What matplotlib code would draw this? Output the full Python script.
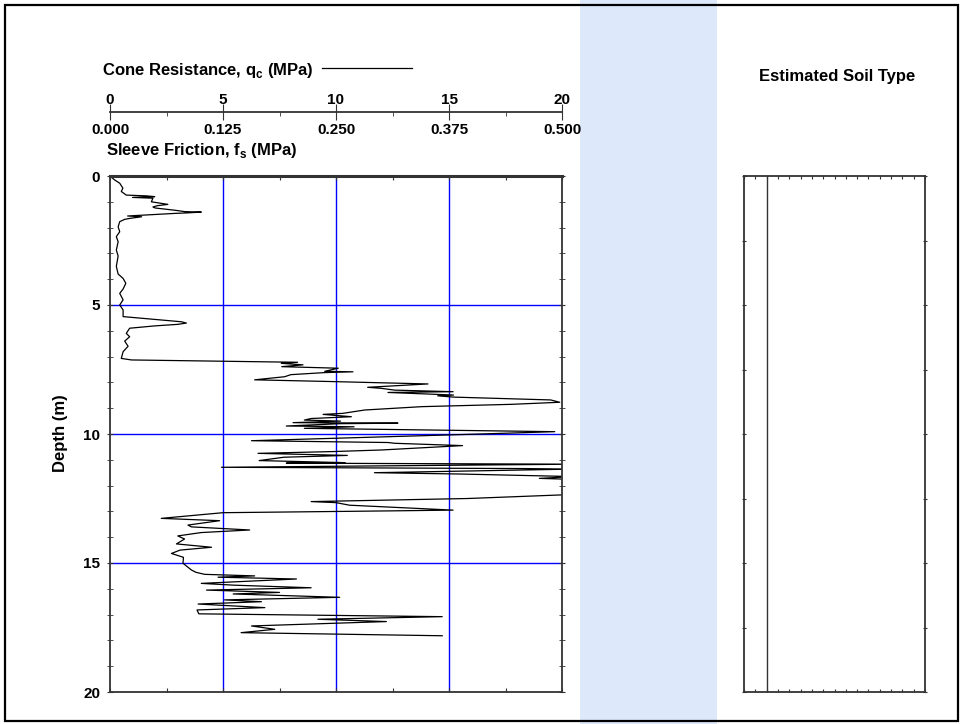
#CPT log - cone resistance vs depth
import numpy as np
import matplotlib
matplotlib.use("Agg")
import matplotlib.pyplot as plt
from matplotlib.patches import Rectangle
from matplotlib.lines import Line2D

plt.rcParams['font.family'] = ['Liberation Sans', 'DejaVu Sans']
plt.rcParams['font.weight'] = 'bold'
plt.rcParams['mathtext.fontset'] = 'custom'
plt.rcParams['mathtext.rm'] = 'Liberation Sans:bold'

#Data (depth in m, qc in MPa)
depth = [0.00, 0.15, 0.28, 0.47, 0.60, 0.74, 0.77, 0.80, 0.83, 0.86, 1.00, 1.10, 1.15, 1.20, 1.24,
         1.33, 1.38, 1.40, 1.43, 1.45, 1.52, 1.55, 1.58, 1.64, 1.68, 1.77, 1.97, 2.16, 2.35, 2.55,
         2.87, 3.10, 3.50, 3.80, 3.97, 4.16, 4.38, 4.55, 4.80, 5.00, 5.19, 5.45, 5.56, 5.65, 5.70,
         5.75, 5.81, 5.90, 6.10, 6.23, 6.40, 6.60, 6.81, 7.07, 7.13, 7.22, 7.26, 7.32, 7.39, 7.45,
         7.57, 7.59, 7.62, 7.70, 7.78, 7.90, 7.97, 8.06, 8.19, 8.23, 8.30, 8.36, 8.39, 8.49, 8.52,
         8.57, 8.68, 8.77, 8.85, 8.94, 9.07, 9.20, 9.24, 9.33, 9.40, 9.46, 9.50, 9.56, 9.58, 9.60,
         9.69, 9.72, 9.78, 9.91, 10.00, 10.26, 10.33, 10.36, 10.45, 10.62, 10.68, 10.75, 10.83, 10.90, 11.03,
         11.11, 11.13, 11.17, 11.29, 11.34, 11.36, 11.50, 11.55, 11.65, 11.72, 11.76, 11.90, 12.20, 12.36, 12.50,
         12.62, 12.66, 12.76, 12.95, 12.98, 13.05, 13.27, 13.36, 13.53, 13.60, 13.72, 13.82, 13.95, 14.07, 14.26,
         14.39, 14.50, 14.63, 14.78, 15.01, 15.27, 15.36, 15.44, 15.50, 15.55, 15.62, 15.79, 15.86, 15.96, 16.05,
         16.14, 16.20, 16.33, 16.43, 16.50, 16.59, 16.73, 16.82, 16.97, 17.08, 17.18, 17.27, 17.44, 17.57, 17.70,
         17.82]
qc = [0.00, 0.20, 0.43, 0.57, 0.50, 0.72, 1.60, 1.98, 1.00, 1.90, 1.83, 2.56, 2.10, 1.90, 2.00,
      2.90, 3.30, 4.04, 3.40, 2.86, 1.40, 0.78, 1.40, 0.90, 0.65, 0.43, 0.36, 0.43, 0.28, 0.36,
      0.28, 0.36, 0.28, 0.36, 0.58, 0.70, 0.58, 0.43, 0.58, 0.43, 0.58, 0.58, 1.98, 3.16, 3.38,
      3.00, 1.98, 0.87, 0.72, 0.87, 0.65, 0.80, 0.58, 0.50, 0.95, 8.30, 7.58, 8.54, 7.60, 10.10,
      9.50, 10.75, 9.50, 8.00, 7.73, 6.40, 9.94, 14.07, 11.40, 12.00, 12.60, 15.18, 12.30, 15.20, 14.50,
      15.20, 19.50, 19.90, 17.76, 13.80, 11.27, 10.30, 9.43, 10.68, 8.90, 8.60, 10.20, 8.10, 12.74, 10.20,
      7.80, 10.80, 8.60, 19.68, 16.40, 6.26, 12.30, 12.60, 15.60, 12.00, 9.90, 6.55, 10.50, 7.70, 6.60,
      10.40, 7.80, 20.50, 4.93, 18.30, 20.50, 11.70, 15.40, 20.50, 19.00, 20.50, 22.00, 21.50, 20.00, 15.84,
      8.90, 10.00, 10.60, 15.18, 12.40, 5.00, 2.27, 4.85, 3.45, 3.60, 6.18, 4.04, 3.00, 3.30, 2.94,
      4.49, 3.10, 2.72, 3.25, 3.23, 3.60, 3.80, 4.19, 6.40, 4.78, 8.25, 4.04, 5.50, 8.90, 4.27,
      7.50, 5.45, 10.16, 5.07, 6.70, 3.90, 6.85, 3.85, 3.93, 14.70, 9.20, 12.23, 6.26, 7.29, 5.80,
      14.70]

qc_ticks = [0, 5, 10, 15, 20]
fs_ticks = [0.000, 0.125, 0.250, 0.375, 0.500]
depth_ticks = [0, 5, 10, 15, 20]

W, H = 961, 724
fig = plt.figure(figsize=(W / 100, H / 100), dpi=100)

def box(x0, y0, x1, y1):
    # pixel box -> figure fraction [left, bottom, width, height]
    return [x0 / W, 1 - y1 / H, (x1 - x0) / W, (y1 - y0) / H]

spine_c = '#333333'
lab_fs = 12
tick_fs = 11

#Main qc plot
ax = fig.add_axes(box(110, 176, 562, 692))
ax.plot(qc, depth, color='black', lw=0.9)
ax.set_xlim(0, 20)
ax.set_ylim(20, 0)
for v in [5, 10, 15]:
    ax.axvline(v, color='#0000ff', lw=1.0, zorder=1)
    ax.axhline(v, color='#0000ff', lw=1.0, zorder=1)
ax.set_xticks(np.arange(0, 20.1, 2.5))
ax.set_xticklabels([])
ax.set_yticks(depth_ticks)
ax.set_yticklabels([str(t) for t in depth_ticks], fontsize=tick_fs, fontweight='bold')
ax.set_yticks(np.arange(0, 21, 1), minor=True)
ax.tick_params(axis='x', which='both', top=True, bottom=True, direction='in', length=3, color=spine_c)
ax.tick_params(axis='y', which='both', left=True, right=True, direction='inout', length=4,
               color=spine_c, pad=5)
for s in ax.spines.values():
    s.set_color(spine_c)
    s.set_linewidth(1.3)
ax.spines['top'].set_linewidth(2.2)
fig.text(60 / W, 1 - 433 / H, 'Depth (m)', rotation=90, ha='center', va='center',
         fontsize=lab_fs, fontweight='bold')

#Top scale (qc above, fs below)
axs = fig.add_axes(box(110, 111.5, 562, 112))
axs.set_xlim(0, 20)
axs.set_ylim(0, 1)
axs.patch.set_visible(False)
for k in ['top', 'left', 'right']:
    axs.spines[k].set_visible(False)
axs.spines['bottom'].set_color(spine_c)
axs.spines['bottom'].set_linewidth(1.3)
axs.set_yticks([])
axs.set_xticks(qc_ticks)
axs.set_xticklabels([str(t) for t in qc_ticks], fontsize=tick_fs, fontweight='bold')
axs.set_xticks(np.arange(0, 20.1, 2.5), minor=True)
axs.tick_params(axis='x', which='major', labeltop=True, labelbottom=False, top=False,
                direction='inout', length=12, color=spine_c, pad=-3)
axs.tick_params(axis='x', which='minor', direction='out', length=3, color=spine_c)
sec = axs.secondary_xaxis('bottom', functions=(lambda q: np.asarray(q) / 40.0,
                                               lambda f: np.asarray(f) * 40.0))
sec.set_xticks(fs_ticks)
sec.set_xticklabels(['%.3f' % f for f in fs_ticks], fontsize=tick_fs, fontweight='bold')
sec.tick_params(length=0, pad=8)
sec.spines['bottom'].set_visible(False)

fig.text(102 / W, 1 - 70 / H, r'Cone Resistance, q$_\mathrm{c}$ (MPa)', ha='left', va='center',
         fontsize=lab_fs, fontweight='bold')
fig.text(106 / W, 1 - 150 / H, r'Sleeve Friction, f$_\mathrm{s}$ (MPa)', ha='left', va='center',
         fontsize=lab_fs, fontweight='bold')
fig.add_artist(Line2D([322 / W, 412 / W], [1 - 68 / H, 1 - 68 / H], color='black', lw=0.9))

#Shaded band
fig.add_artist(Rectangle((580 / W, 0.0), (717 - 580) / W, 1.0, facecolor='#dde9fb',
                         edgecolor='none', zorder=-1))

#Soil type column
ax2 = fig.add_axes(box(744, 176, 925, 692))
ax2.set_xlim(0, 16)
ax2.set_ylim(20, 0)
ax2.axvline(2, color=spine_c, lw=1.0)
ax2.set_xticks(np.arange(0, 17, 1))
ax2.set_yticks(np.arange(0, 20.1, 2.5))
ax2.set_xticklabels([])
ax2.set_yticklabels([])
ax2.tick_params(axis='x', top=True, bottom=True, direction='in', length=2.5, color=spine_c)
ax2.tick_params(axis='y', left=True, right=True, direction='inout', length=3, color=spine_c)
for s in ax2.spines.values():
    s.set_color(spine_c)
    s.set_linewidth(1.3)
fig.text(837 / W, 1 - 77 / H, 'Estimated Soil Type', ha='center', va='center',
         fontsize=lab_fs, fontweight='bold')

#Outer frame
fig.add_artist(Rectangle((5 / W, 3 / H), (958 - 5) / W, (721 - 5) / H, fill=False,
                         edgecolor='black', lw=1.6, zorder=5))

plt.savefig('out.png', dpi=100)
